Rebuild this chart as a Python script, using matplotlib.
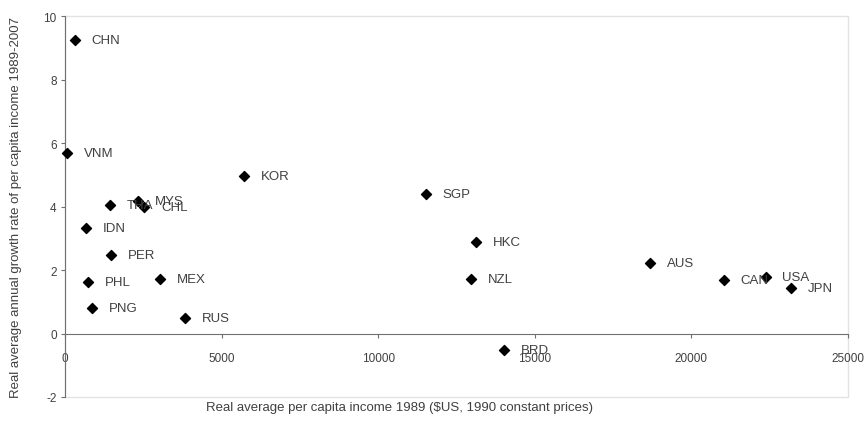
import matplotlib
matplotlib.use("Agg")
import matplotlib.pyplot as plt
from matplotlib.patches import Rectangle

plt.rcParams['font.family'] = ['Liberation Sans', 'DejaVu Sans']
plt.rcParams['axes.unicode_minus'] = False

# country codes, income 1989 and growth 1989-2007
countries = ['CHN', 'VNM', 'KOR', 'THA', 'MYS', 'CHL', 'IDN', 'PER', 'PHL', 'MEX',
             'PNG', 'RUS', 'SGP', 'HKC', 'NZL', 'BRD', 'AUS', 'CAN', 'USA', 'JPN']
income = [320, 60, 5730, 1440, 2340, 2530, 670, 1470, 735, 3040,
          860, 3840, 11520, 13120, 12960, 14020, 18690, 21030, 22370, 23180]
growth = [9.25, 5.7, 4.95, 4.05, 4.18, 3.98, 3.32, 2.47, 1.62, 1.72,
          0.8, 0.48, 4.4, 2.88, 1.72, -0.52, 2.22, 1.68, 1.78, 1.43]

xticks = [0, 5000, 10000, 15000, 20000, 25000]
yticks = [-2, 0, 2, 4, 6, 8, 10]

txt = '#404040'
fig = plt.figure(figsize=(8.67, 4.27), dpi=100)
ax = fig.add_axes([65 / 867, 1 - 398 / 427, (848 - 65) / 867, (398 - 17) / 427])

ax.scatter(income, growth, marker='D', s=26, color='black', zorder=3, clip_on=False)
for c, x, y in zip(countries, income, growth):
    ax.annotate(c, (x, y), xytext=(12, 0), textcoords='offset points',
                va='center', ha='left', fontsize=9.5, color=txt)

ax.set_xlim(0, 25000)
ax.set_ylim(-2, 10)
ax.set_xticks(xticks)
ax.set_yticks(yticks)

ax.spines['bottom'].set_position(('data', 0))
ax.spines['bottom'].set_color('#707070')
ax.spines['left'].set_color('#707070')
ax.spines['top'].set_visible(False)
ax.spines['right'].set_visible(False)
ax.add_patch(Rectangle((0, 0), 1, 1, transform=ax.transAxes, fill=False,
                       ec='#e2e2e2', lw=1, clip_on=False, zorder=0))

ax.tick_params(axis='x', direction='out', length=3, pad=10, labelsize=8.5,
               colors='#707070', labelcolor=txt)
ax.tick_params(axis='y', direction='out', length=3, pad=3, labelsize=8.5,
               colors='#707070', labelcolor=txt)

fig.text(400 / 867, 1 - 408 / 427, 'Real average per capita income 1989 ($US, 1990 constant prices)',
         ha='center', va='center', fontsize=9.5, color=txt)
fig.text(16 / 867, 1 - 207 / 427, 'Real average annual growth rate of per capita income 1989-2007',
         ha='center', va='center', rotation=90, fontsize=9.5, color=txt)

fig.savefig('out.png', dpi=100)
